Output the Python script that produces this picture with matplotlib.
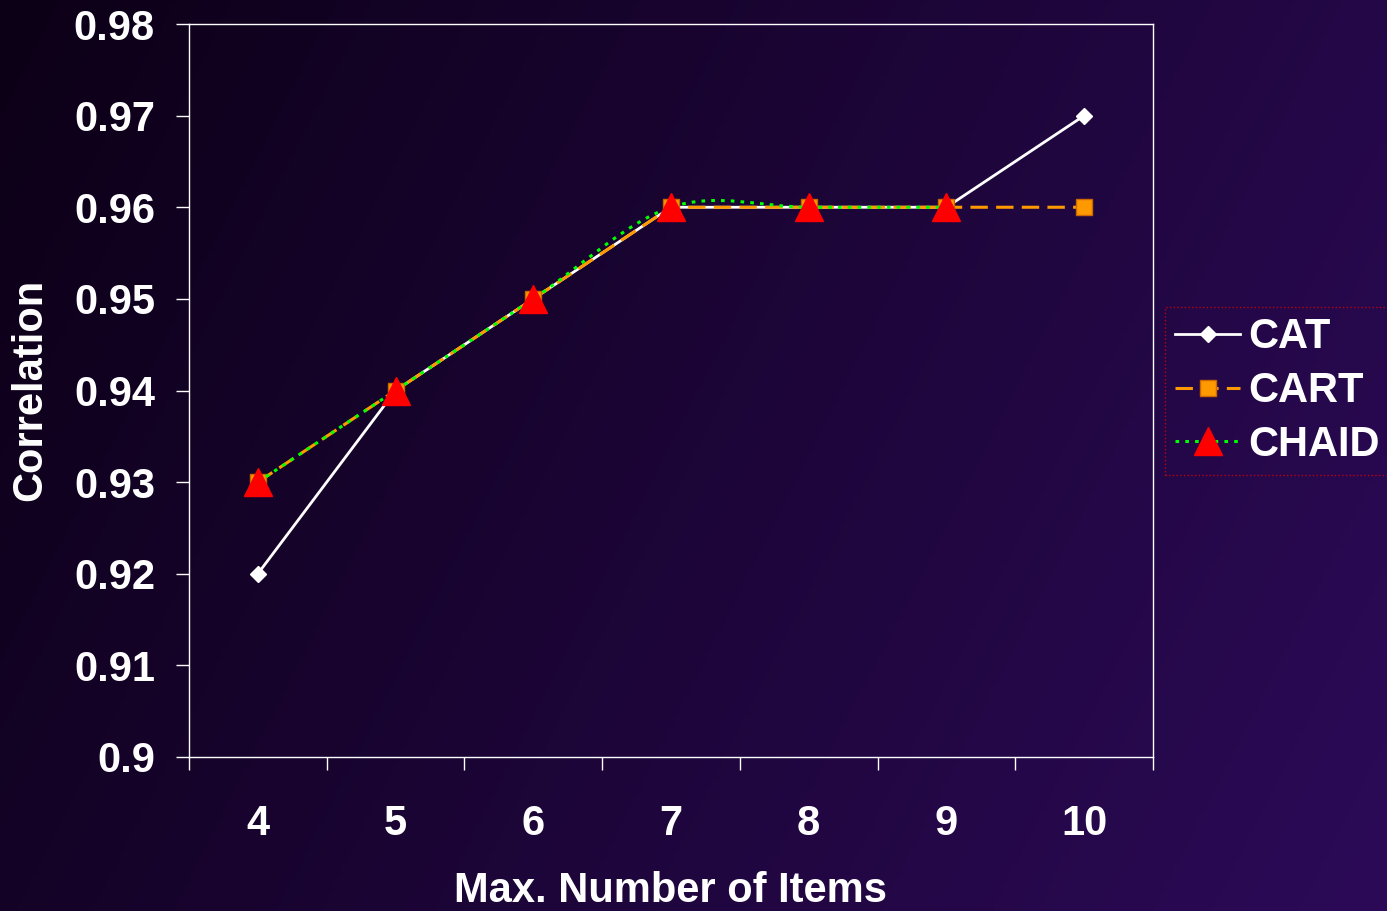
import matplotlib
matplotlib.use("Agg")
import matplotlib.pyplot as plt
from matplotlib.path import Path
from matplotlib.patches import PathPatch
from matplotlib.lines import Line2D
import numpy as np

# data
items = [4, 5, 6, 7, 8, 9, 10]
cat = [0.92, 0.94, 0.95, 0.96, 0.96, 0.96, 0.97]
cart = [0.93, 0.94, 0.95, 0.96, 0.96, 0.96, 0.96]
chaid_items = [4, 5, 6, 7, 8, 9]
chaid = [0.93, 0.94, 0.95, 0.96, 0.96, 0.96]
yticks = [0.90, 0.91, 0.92, 0.93, 0.94, 0.95, 0.96, 0.97, 0.98]

plt.rcParams['font.family'] = ['Liberation Sans', 'DejaVu Sans']
plt.rcParams['font.weight'] = 'bold'
FS = 30


def smooth_path(xs, ys):
    # Excel-like smoothed line: cubic bezier through the points
    p = np.column_stack([xs, ys]).astype(float)
    ext = np.vstack([p[0], p, p[-1]])
    verts = [tuple(p[0])]
    codes = [Path.MOVETO]
    for i in range(len(p) - 1):
        p0, p1, p2, p3 = ext[i], ext[i + 1], ext[i + 2], ext[i + 3]
        c1 = p1 + (p2 - p0) / 6.0
        c2 = p2 - (p3 - p1) / 6.0
        verts += [tuple(c1), tuple(c2), tuple(p2)]
        codes += [Path.CURVE4] * 3
    return Path(verts, codes)


fig = plt.figure(figsize=(13.87, 9.11), dpi=100)

# background gradient
bg = fig.add_axes([0, 0, 1, 1], zorder=-10)
gx, gy = np.meshgrid(np.linspace(0, 1, 300), np.linspace(0, 1, 200))
t = np.clip(0.75 * gx + 0.25 * gy, 0, 1)
c0 = np.array([12, 0, 22]) / 255.0
c1 = np.array([44, 10, 88]) / 255.0
img = c0[None, None, :] * (1 - t[..., None]) + c1[None, None, :] * t[..., None]
bg.imshow(img, aspect='auto', extent=[0, 1, 0, 1], origin='upper')
bg.axis('off')

ax = fig.add_axes([189 / 1387, 1 - 757 / 911, 964 / 1387, 733 / 911])
ax.set_facecolor('none')

ax.plot(items, cat, color='white', lw=2, marker='D', ms=8,
        mfc='white', mec='white', zorder=3)
ax.plot(items, cart, color='#ff9900', lw=2.2, ls=(0, (5.7, 2.7)),
        marker='s', ms=11, mfc='#ff9900', mec='#cc6600', mew=1, zorder=4)
ax.add_patch(PathPatch(smooth_path(chaid_items, chaid), fill=False,
                       edgecolor='#00ff00', lw=2.2, ls=(0, (1.2, 2.0)),
                       zorder=5))
ax.plot(chaid_items, chaid, ls='none', marker='^', ms=20,
        mfc='#ff0000', mec='#ff0000', zorder=6)

ax.set_xlim(3.5, 10.5)
ax.set_ylim(0.9, 0.98)
ax.set_yticks(yticks)
ax.set_yticklabels(['0.9', '0.91', '0.92', '0.93', '0.94', '0.95',
                    '0.96', '0.97', '0.98'])
ax.set_xticks(np.arange(3.5, 11, 1.0))
ax.set_xticklabels([])
ax.set_xticks(items, minor=True)
ax.set_xticklabels([str(v) for v in items], minor=True)
ax.tick_params(axis='x', which='major', direction='out', length=9.5,
               width=1, color='white')
ax.tick_params(axis='x', which='minor', length=0, pad=34,
               labelsize=FS, labelcolor='white')
ax.tick_params(axis='y', direction='out', length=9.5, width=1,
               color='white', pad=15, labelsize=FS, labelcolor='white')
for s in ax.spines.values():
    s.set_color('white')
    s.set_linewidth(1)

fig.text(671 / 1387, 1 - 891 / 911, 'Max. Number of Items', color='white',
         fontsize=FS, fontweight='bold', ha='center', va='center')
fig.text(30 / 1387, 1 - 390 / 911, 'Correlation', color='white',
         fontsize=FS, fontweight='bold', ha='center', va='center',
         rotation=90)

handles = [
    Line2D([], [], color='white', lw=2, marker='D', ms=8, mfc='white',
           mec='white'),
    Line2D([], [], color='#ff9900', lw=2.2, ls=(0, (5.7, 2.7)), marker='s',
           ms=11, mfc='#ff9900', mec='#cc6600'),
    Line2D([], [], color='#00ff00', lw=2.2, ls=(0, (1.2, 2.0)), marker='^',
           ms=20, mfc='#ff0000', mec='#ff0000'),
]
leg = fig.legend(handles, ['CAT', 'CART', 'CHAID'], loc='upper left',
                 bbox_to_anchor=(1165 / 1387, 1 - 307 / 911),
                 prop={'size': FS, 'weight': 'bold'}, labelcolor='white',
                 frameon=True, fancybox=False,
                 handlelength=1.55, handletextpad=0.2, labelspacing=0.33,
                 borderpad=0.25, borderaxespad=0)
fr = leg.get_frame()
fr.set_facecolor('none')
fr.set_edgecolor('#dd0000')
fr.set_linestyle(':')
fr.set_linewidth(1)

fig.savefig('out.png', dpi=100)
